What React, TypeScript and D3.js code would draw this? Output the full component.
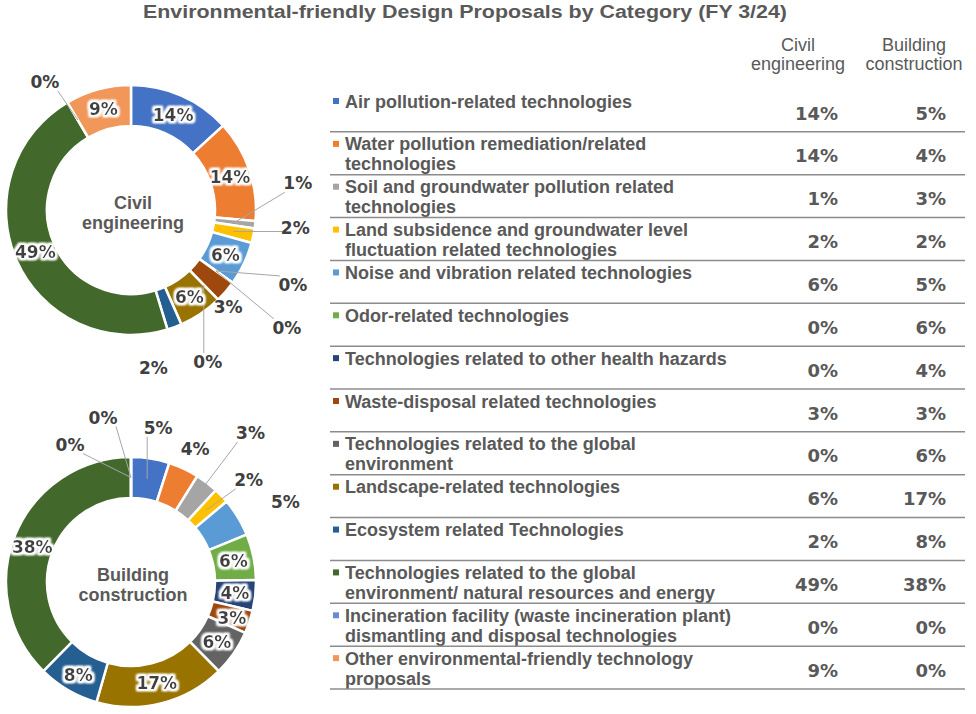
import React from 'react';
import * as d3 from 'd3';

const title = 'Environmental-friendly Design Proposals by Category (FY 3/24)';

const categories: string[][] = [
  ['Air pollution-related technologies'],
  ['Water pollution remediation/related', 'technologies'],
  ['Soil and groundwater pollution related', 'technologies'],
  ['Land subsidence and groundwater level', 'fluctuation related technologies'],
  ['Noise and vibration related technologies'],
  ['Odor-related technologies'],
  ['Technologies related to other health hazards'],
  ['Waste-disposal related technologies'],
  ['Technologies related to the global', 'environment'],
  ['Landscape-related technologies'],
  ['Ecosystem related Technologies'],
  ['Technologies related to the global', 'environment/ natural resources and energy'],
  ['Incineration facility (waste incineration plant)', 'dismantling and disposal technologies'],
  ['Other environmental-friendly technology', 'proposals'],
];

const colors = [
  '#4472C4', '#ED7D31', '#A5A5A5', '#FFC000', '#5B9BD5', '#70AD47', '#264478',
  '#9E480E', '#636363', '#997300', '#255E91', '#43682B', '#698ED0', '#F1975A',
];

const civilValues = [14, 14, 1, 2, 6, 0, 0, 3, 0, 6, 2, 49, 0, 9];
const buildingValues = [5, 4, 3, 2, 5, 6, 4, 3, 6, 17, 8, 38, 0, 0];

const columnHeaders = [['Civil', 'engineering'], ['Building', 'construction']];

// label placement per slice: offset from the ring centroid + mode
type LabelPos = [number, number, 'in' | 'out' | 'lead'];
const civilLabelPos: LabelPos[] = [
  [0, 0, 'in'], [0, 0, 'in'], [63, -39, 'lead'], [62, -4, 'lead'], [0, 0, 'in'],
  [77, 14, 'lead'], [71, 57, 'lead'], [18, 29, 'out'], [4, 77, 'lead'], [0, 0, 'in'],
  [-14, 60, 'out'], [0, 0, 'in'], [-33, -38, 'lead'], [0, 0, 'in'],
];
const buildingLabelPos: LabelPos[] = [
  [11, -51, 'lead'], [20, -38, 'out'], [56, -66, 'lead'], [42, -30, 'lead'], [65, -26, 'out'],
  [0, 0, 'in'], [0, 0, 'in'], [2, 2, 'in'], [0, 0, 'in'], [0, 0, 'in'],
  [0, 3, 'in'], [-2, 4, 'in'], [-61, -33, 'lead'], [-28, -60, 'lead'],
];

const W = 976;
const H = 714;
const R_OUT = 125;
const R_IN = 84;
const textGray = '#595959';
const labelColor = '#404040';
const sans = '"Liberation Sans", Arial, sans-serif';
const verd = '"DejaVu Sans", Verdana, sans-serif';

interface DonutProps {
  values: number[];
  cx: number;
  cy: number;
  caption: string[];
  labelPos: LabelPos[];
}

const Donut: React.FC<DonutProps> = ({ values, cx, cy, caption, labelPos }) => {
  const pie = d3.pie<number>().sort(null).value(d => d);
  const arcs = pie(values);
  const arc = d3.arc<d3.PieArcDatum<number>>().innerRadius(R_IN).outerRadius(R_OUT);

  const labels = arcs.map((a, i) => {
    const [x0, y0] = arc.centroid(a);
    const [dx, dy, mode] = labelPos[i];
    const lx = x0 + dx;
    const ly = y0 + dy;
    const txt = `${values[i]}%`;
    const hw = txt.length * 6.5;
    const hh = 9;
    const ax = Math.max(lx - hw, Math.min(lx + hw, x0));
    const ay = Math.max(ly - hh, Math.min(ly + hh, y0));
    return { x0, y0, lx, ly, ax, ay, mode, txt };
  });

  return (
    <g transform={`translate(${cx},${cy})`}>
      {arcs.map((a, i) => (
        <path key={i} d={arc(a) || ''} fill={colors[i]} stroke="#fff" strokeWidth={2.5} />
      ))}
      {labels.filter(l => l.mode === 'lead').map((l, i) => (
        <line key={i} x1={l.ax} y1={l.ay} x2={l.x0} y2={l.y0} stroke="#A6A6A6" strokeWidth={1} />
      ))}
      {labels.map((l, i) => (
        <text
          key={i}
          x={l.lx}
          y={l.ly}
          dy="0.36em"
          textAnchor="middle"
          fontFamily={verd}
          fontWeight="bold"
          fontSize={17}
          fill={labelColor}
          filter={l.mode === 'in' ? 'url(#glow)' : undefined}
        >
          {l.txt}
        </text>
      ))}
      {caption.map((c, i) => (
        <text
          key={c}
          x={2}
          y={-1 + i * 20}
          textAnchor="middle"
          fontFamily={sans}
          fontWeight="bold"
          fontSize={18}
          fill={textGray}
        >
          {c}
        </text>
      ))}
    </g>
  );
};

export default function App() {
  const rowY = d3.scaleLinear().domain([0, categories.length]).range([89, 689]);
  const colRight = [838, 946];
  const colCenter = [798, 914];
  const tableLeft = 330;
  const tableRight = 965;

  return (
    <div style={{ position: 'absolute', left: 0, top: 0 }}>
      <svg width={W} height={H} style={{ display: 'block', background: '#fff' }}>
        <defs>
          <filter id="glow" x="-30%" y="-30%" width="160%" height="160%">
            <feMorphology in="SourceAlpha" operator="dilate" radius="1.6" result="d" />
            <feGaussianBlur in="d" stdDeviation="1.3" result="b" />
            <feFlood floodColor="#fff" />
            <feComposite in2="b" operator="in" result="g" />
            <feMerge>
              <feMergeNode in="g" />
              <feMergeNode in="g" />
              <feMergeNode in="SourceGraphic" />
            </feMerge>
          </filter>
        </defs>

        <text
          x={465}
          y={18}
          textAnchor="middle"
          fontFamily={sans}
          fontWeight="bold"
          fontSize={18}
          fill={textGray}
          textLength={644}
          lengthAdjust="spacingAndGlyphs"
        >
          {title}
        </text>

        <Donut values={civilValues} cx={131} cy={210} caption={['Civil', 'engineering']} labelPos={civilLabelPos} />
        <Donut values={buildingValues} cx={131} cy={582} caption={['Building', 'construction']} labelPos={buildingLabelPos} />

        {/* table headers */}
        {columnHeaders.map((h, c) =>
          h.map((line, j) => (
            <text key={`${c}-${j}`} x={colCenter[c]} y={51 + j * 19} textAnchor="middle" fontFamily={sans} fontSize={18} fill={textGray}>
              {line}
            </text>
          ))
        )}

        {/* table rows */}
        {categories.map((lines, i) => {
          const top = rowY(i);
          return (
            <g key={i}>
              <rect x={333} y={top + 9} width={6} height={6} fill={colors[i]} />
              {lines.map((ln, j) => (
                <text key={j} x={345} y={top + 18.5 + j * 20} fontFamily={sans} fontWeight="bold" fontSize={18} fill={textGray}>
                  {ln}
                </text>
              ))}
              {[civilValues[i], buildingValues[i]].map((v, c) => (
                <text key={c} x={colRight[c]} y={top + 30.5} textAnchor="end" fontFamily={verd} fontWeight="bold" fontSize={18} fill={textGray}>
                  {`${v}%`}
                </text>
              ))}
              <line x1={tableLeft} x2={tableRight} y1={rowY(i + 1)} y2={rowY(i + 1)} stroke="#8C8C8C" strokeWidth={1.5} />
            </g>
          );
        })}
      </svg>
    </div>
  );
}
